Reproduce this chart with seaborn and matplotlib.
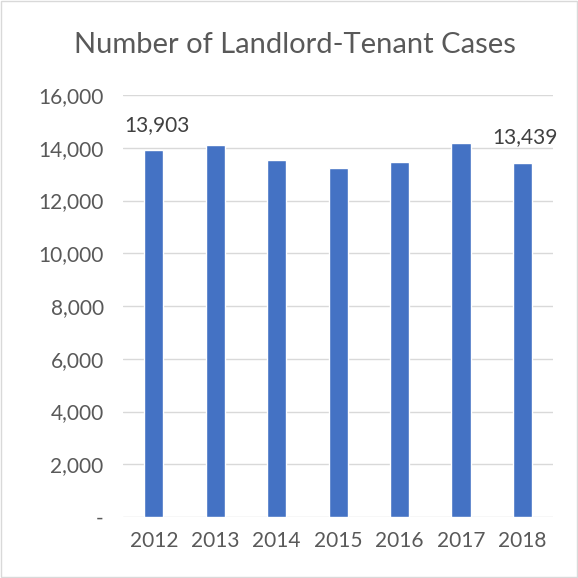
import matplotlib
matplotlib.use("Agg")
import matplotlib.pyplot as plt
import seaborn as sns
import pandas as pd
from matplotlib.ticker import FuncFormatter

years = ["2012", "2013", "2014", "2015", "2016", "2017", "2018"]
cases = [13903, 14090, 13535, 13230, 13460, 14180, 13439]
labelled = {"2012": "13,903", "2018": "13,439"}

df = pd.DataFrame({"year": years, "cases": cases})

sns.set_style("white")
plt.rcParams["font.family"] = ["Lato", "DejaVu Sans"]
txt = "#595959"

fig = plt.figure(figsize=(5.78, 5.78), dpi=100)
ax = fig.add_axes([0.213, 0.1055, 0.744, 0.7301])

sns.barplot(data=df, x="year", y="cases", color="#4472C4", saturation=1, width=0.31, ax=ax)

ax.set_ylim(0, 16000)
ax.set_yticks(range(0, 16001, 2000))
ax.yaxis.set_major_formatter(FuncFormatter(lambda v, p: "-" if v == 0 else f"{int(v):,}"))
ax.grid(axis="y", color="#D9D9D9", linewidth=1)
ax.set_axisbelow(True)
for s in ["top", "right", "left", "bottom"]:
    ax.spines[s].set_visible(False)
ax.tick_params(axis="both", length=0, labelsize=15, colors=txt, pad=10)
ax.tick_params(axis="y", pad=14)
ax.set_xlabel("")
ax.set_ylabel("")

for i, (yr, v) in enumerate(zip(years, cases)):
    if yr in labelled:
        ax.annotate(labelled[yr], (i, v), xytext=(2, 18), textcoords="offset points",
                    ha="center", va="center", fontsize=15, color="#404040")

fig.text(0.51, 0.922, "Number of Landlord-Tenant Cases", ha="center", va="center",
         fontsize=21, color=txt)

fig.patches.append(plt.Rectangle((0.002, 0.002), 0.996, 0.996, transform=fig.transFigure,
                                 fill=False, edgecolor="#D9D9D9", linewidth=1))

fig.savefig("out.png", dpi=100)
